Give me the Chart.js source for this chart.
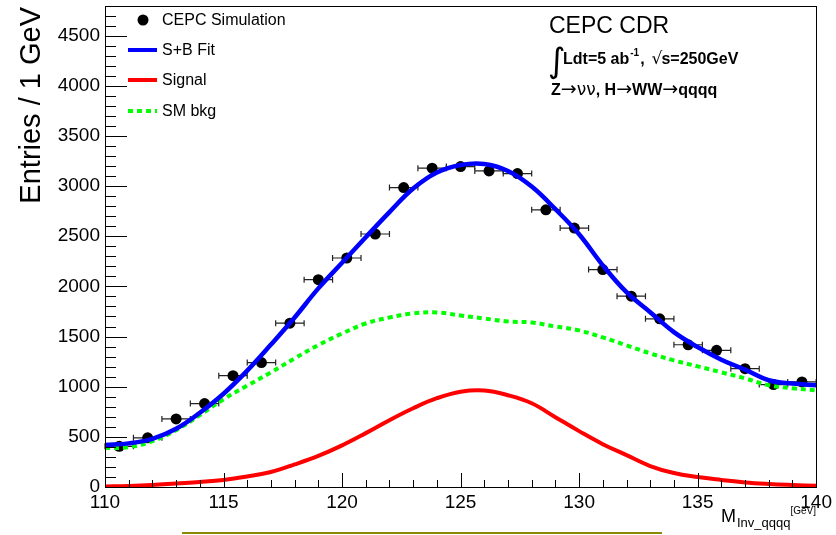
<!DOCTYPE html>
<html>
<head>
<meta charset="utf-8">
<script src="https://cdn.jsdelivr.net/npm/chart.js@4.4.0/dist/chart.umd.min.js"></script>
<style>
  html, body { margin: 0; padding: 0; background: #fff; }
  #wrap { position: relative; width: 836px; height: 535px; }
  #olive { position: absolute; left: 182px; top: 532px; width: 480px; height: 0; border-top: 2px solid #8a8a00; }
</style>
</head>
<body>
<div id="wrap">
  <canvas id="grafico" width="836" height="535"></canvas>
  <div id="olive"></div>
</div>
<script>
// simulated sample: bin centres (GeV) and entries
var binCentres = [110.6, 111.8, 113.0, 114.2, 115.4, 116.6, 117.8, 119.0, 120.2, 121.4, 122.6, 123.8, 125.0,
                  126.2, 127.4, 128.6, 129.8, 131.0, 132.2, 133.4, 134.6, 135.8, 137.0, 138.2, 139.4];
var entries = [405, 490, 679, 832, 1110, 1240, 1633, 2067, 2283, 2522, 2985, 3178, 3194,
               3151, 3124, 2763, 2581, 2167, 1902, 1677, 1418, 1362, 1180, 1021, 1047];
var binHalfWidth = 0.6;

// fit curves, read every 1 GeV
var curveMass = [110, 111, 112, 113, 114, 115, 116, 117, 118, 119, 120, 121, 122, 123, 124, 125,
                 126, 127, 128, 129, 130, 131, 132, 133, 134, 135, 136, 137, 138, 139, 140];
var fitSB = [418, 435, 480, 580, 740, 930, 1160, 1420, 1690, 1980, 2235, 2490, 2740, 2975, 3135, 3210,
             3220, 3150, 2995, 2770, 2520, 2210, 1942, 1743, 1544, 1395, 1269, 1170, 1064, 1031, 1014];
var signal = [5, 10, 20, 35, 50, 70, 105, 150, 225, 310, 415, 537, 666, 785, 885, 950,
              962, 915, 835, 696, 557, 427, 318, 209, 139, 99, 70, 45, 30, 20, 12];
var smBkg = [388, 398, 457, 567, 716, 875, 1010, 1143, 1282, 1415, 1530, 1630, 1690, 1730, 1740, 1710,
             1680, 1650, 1640, 1600, 1561, 1491, 1412, 1332, 1262, 1203, 1143, 1083, 1014, 984, 964];

// axis ticks
var xTicks = [110, 115, 120, 125, 130, 135, 140];
var yTicks = [0, 500, 1000, 1500, 2000, 2500, 3000, 3500, 4000, 4500];

var fonte = "'Liberation Sans', Arial, sans-serif";

function pares(xs, ys) {
    return xs.map(function (x, i) { return { x: x, y: ys[i] }; });
}

// draws a row of text pieces [text, font, dy, gap]
function linha(ctx, x, y, pecas) {
    pecas.forEach(function (p) {
        ctx.font = p[1];
        ctx.fillText(p[0], x, y + (p[2] || 0));
        x += ctx.measureText(p[0]).width + (p[3] || 0);
    });
    return x;
}

// ROOT-like decorations: inner ticks, frame, error bars, legend, texts
var rootPlugin = {
    id: 'rootStyle',
    beforeDatasetsDraw: function (chart) {
        var ctx = chart.ctx, xs = chart.scales.x, ys = chart.scales.y;
        ctx.save();
        ctx.strokeStyle = '#222';
        ctx.lineWidth = 1.2;
        binCentres.forEach(function (c, i) {
            var x1 = xs.getPixelForValue(c - binHalfWidth);
            var x2 = xs.getPixelForValue(c + binHalfWidth);
            var y = ys.getPixelForValue(entries[i]);
            ctx.beginPath();
            ctx.moveTo(x1, y); ctx.lineTo(x2, y);
            ctx.moveTo(x1, y - 3); ctx.lineTo(x1, y + 3);
            ctx.moveTo(x2, y - 3); ctx.lineTo(x2, y + 3);
            ctx.stroke();
        });
        ctx.restore();
    },
    afterDraw: function (chart) {
        var ctx = chart.ctx, xs = chart.scales.x, ys = chart.scales.y;
        var left = Math.round(xs.getPixelForValue(xs.min)), right = Math.round(xs.getPixelForValue(xs.max));
        var top = Math.round(ys.getPixelForValue(ys.max)), bottom = Math.round(ys.getPixelForValue(ys.min));
        ctx.save();
        // frame
        ctx.strokeStyle = '#000';
        ctx.lineWidth = 1;
        ctx.strokeRect(left + 0.5, top + 0.5, right - left, bottom - top);
        // inner ticks
        ctx.beginPath();
        for (var v = 0; v <= ys.max; v += 100) {
            var py = Math.round(ys.getPixelForValue(v)) + 0.5;
            var len = (v % 500 === 0) ? 22 : 11;
            ctx.moveTo(left, py); ctx.lineTo(left + len, py);
        }
        for (var m = 110; m <= 140; m += 1) {
            var px = Math.round(xs.getPixelForValue(m)) + 0.5;
            var l2 = (m % 5 === 0) ? 14 : 7;
            ctx.moveTo(px, bottom); ctx.lineTo(px, bottom - l2);
        }
        ctx.stroke();

        // axis titles
        ctx.fillStyle = '#000';
        ctx.save();
        ctx.translate(40, 7);
        ctx.rotate(-Math.PI / 2);
        ctx.font = '29px ' + fonte;
        ctx.textAlign = 'right';
        ctx.textBaseline = 'alphabetic';
        ctx.fillText('Entries / 1 GeV', 0, 0);
        ctx.restore();

        ctx.textAlign = 'left';
        ctx.textBaseline = 'alphabetic';
        linha(ctx, 721, 522, [
            ['M', '18px ' + fonte, 0, 1],
            ['Inv_qqqq', '13px ' + fonte, 5],
            ['[GeV]', '10px ' + fonte, -8]
        ]);

        // legend
        var ds = chart.data.datasets;
        ctx.font = '16px ' + fonte;
        ctx.textBaseline = 'middle';
        ctx.beginPath();
        ctx.arc(143, 20, 5.5, 0, Math.PI * 2);
        ctx.fill();
        ctx.fillText(ds[0].label, 162, 21);
        [[1, 50], [2, 80], [3, 111]].forEach(function (e) {
            var d = ds[e[0]];
            ctx.strokeStyle = d.borderColor;
            ctx.lineWidth = 4;
            ctx.setLineDash(d.borderDash || []);
            ctx.beginPath();
            ctx.moveTo(128, e[1]); ctx.lineTo(157, e[1]);
            ctx.stroke();
            ctx.setLineDash([]);
            ctx.fillText(d.label, 162, e[1] + 1);
        });

        // labels top right
        ctx.textBaseline = 'alphabetic';
        ctx.font = '23px ' + fonte;
        ctx.fillText('CEPC CDR', 549, 33);

        ctx.font = '34px "DejaVu Sans"';
        ctx.fillText('\u222B', 548, 72);
        var b16 = 'bold 16px ' + fonte;
        var seta = '19px "DejaVu Sans"';
        linha(ctx, 563, 64, [
            ['Ldt=5 ab', b16, 0, 1],
            ['-1', 'bold 10px ' + fonte, -8, 1],
            [',', b16, 0, 7],
            ['\u221A', '17px "DejaVu Sans"', 0, -1],
            ['s=250GeV', b16]
        ]);
        linha(ctx, 551, 95, [
            ['Z', b16],
            ['\u2192', seta],
            ['\u03BD\u03BD', '17px "DejaVu Sans"'],
            [', H', b16],
            ['\u2192', seta],
            ['WW', b16],
            ['\u2192', seta],
            ['qqqq', b16]
        ]);
        ctx.restore();
    }
};

var ctx = document.getElementById('grafico');

var grafico = new Chart(ctx, {
    type: 'line',
    data: {
        datasets: [
            {
                label: 'CEPC Simulation',
                data: pares(binCentres, entries),
                showLine: false,
                pointRadius: 5.5,
                pointBackgroundColor: '#000',
                pointBorderWidth: 0,
                order: 4
            },
            {
                label: 'S+B Fit',
                data: pares(curveMass, fitSB),
                borderColor: '#0000ff',
                borderWidth: 4.5,
                pointRadius: 0,
                tension: 0.4,
                order: 1
            },
            {
                label: 'Signal',
                data: pares(curveMass, signal),
                borderColor: '#ff0000',
                borderWidth: 4,
                pointRadius: 0,
                tension: 0.4,
                order: 2
            },
            {
                label: 'SM bkg',
                data: pares(curveMass, smBkg),
                borderColor: '#00ff00',
                borderWidth: 4,
                borderDash: [5, 4],
                pointRadius: 0,
                tension: 0.4,
                order: 3
            }
        ]
    },
    options: {
        responsive: false,
        animation: false,
        layout: { padding: { top: 3, right: 17, left: 0, bottom: 0 } },
        scales: {
            x: {
                type: 'linear',
                min: 110,
                max: 140,
                grid: { display: false, drawTicks: false },
                border: { display: false },
                ticks: {
                    color: '#000',
                    font: { family: fonte, size: 19 },
                    padding: 4,
                    autoSkip: false,
                    maxRotation: 0,
                    callback: function (v) { return String(v); }
                },
                afterBuildTicks: function (s) { s.ticks = xTicks.map(function (v) { return { value: v }; }); },
                afterFit: function (s) { s.height = 48; }
            },
            y: {
                type: 'linear',
                min: 0,
                max: 4800,
                grid: { display: false, drawTicks: false },
                border: { display: false },
                ticks: {
                    color: '#000',
                    font: { family: fonte, size: 19 },
                    padding: 5,
                    callback: function (v) { return String(v); }
                },
                afterBuildTicks: function (s) { s.ticks = yTicks.map(function (v) { return { value: v }; }); },
                afterFit: function (s) { s.width = 105; s.paddingTop = 0; s.paddingBottom = 0; }
            }
        },
        plugins: {
            legend: { display: false },
            tooltip: { enabled: false }
        }
    },
    plugins: [rootPlugin]
});
</script>
</body>
</html>
